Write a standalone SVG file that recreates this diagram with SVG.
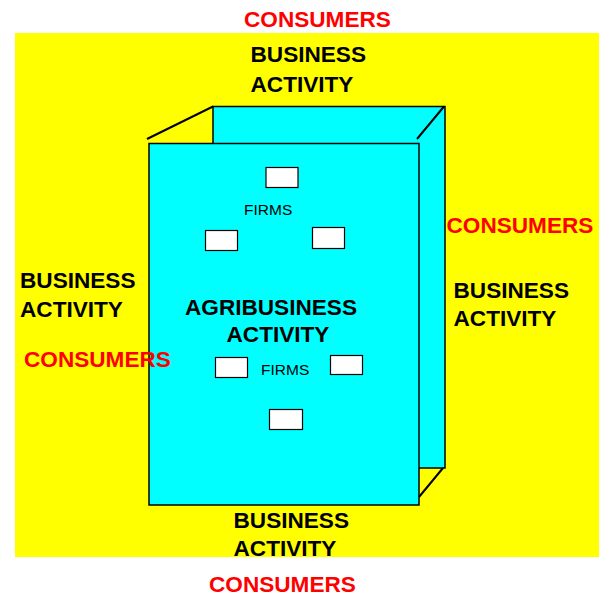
<svg xmlns="http://www.w3.org/2000/svg" width="616" height="607" viewBox="0 0 616 607">
<style>
.big{font-family:"Liberation Sans",Arial,sans-serif;font-weight:bold;font-size:22.6px;fill:#000}
.red{fill:#FF0000}
.small{font-family:"Liberation Sans",Arial,sans-serif;font-size:15.5px;fill:#000}
.box{fill:#00FFFF;stroke:#000;stroke-width:1.5}
.firm{fill:#FFFFFF;stroke:#000;stroke-width:1.2}
.edge{stroke:#000;stroke-width:2;fill:none}
</style>
<rect width="616" height="607" fill="#FFFFFF"/>
<rect x="15" y="33" width="584" height="524" fill="#FFFF00"/>
<g id="box">
<rect class="box" x="213" y="106.5" width="232" height="361.5"/>
<rect class="box" x="149" y="143.5" width="270" height="361.5"/>
</g>
<g id="connectors">
<line class="edge" x1="147" y1="139" x2="213" y2="106.5"/>
<line class="edge" x1="417" y1="139" x2="444" y2="106.5"/>
<line class="edge" x1="419" y1="497" x2="443" y2="468"/>
</g>
<g id="firms">
<rect class="firm" x="266" y="167.5" width="32" height="20"/>
<rect class="firm" x="205.5" y="230.5" width="32" height="20"/>
<rect class="firm" x="312.5" y="227.5" width="32" height="21"/>
<rect class="firm" x="215.5" y="357.5" width="32" height="20"/>
<rect class="firm" x="330.5" y="355.5" width="32" height="19"/>
<rect class="firm" x="269.5" y="409.5" width="33" height="20"/>
<text class="small" x="244" y="215">FIRMS</text>
<text class="small" x="261" y="374.5">FIRMS</text>
</g>
<g id="labels">
<text class="big red" x="244" y="27">CONSUMERS</text>
<text class="big" x="250.5" y="62.3">BUSINESS</text>
<text class="big" x="250.5" y="91.5">ACTIVITY</text>
<text class="big" x="20" y="288.3">BUSINESS</text>
<text class="big" x="20" y="316.7">ACTIVITY</text>
<text class="big red" x="24" y="367">CONSUMERS</text>
<text class="big red" x="446.5" y="232.7">CONSUMERS</text>
<text class="big" x="453.5" y="297.7">BUSINESS</text>
<text class="big" x="453.5" y="325.7">ACTIVITY</text>
<text class="big" x="185" y="315">AGRIBUSINESS</text>
<text class="big" x="226.5" y="341.7">ACTIVITY</text>
<text class="big" x="233.5" y="528.3">BUSINESS</text>
<text class="big" x="233.5" y="556">ACTIVITY</text>
<text class="big red" x="209" y="592">CONSUMERS</text>
</g>
</svg>
